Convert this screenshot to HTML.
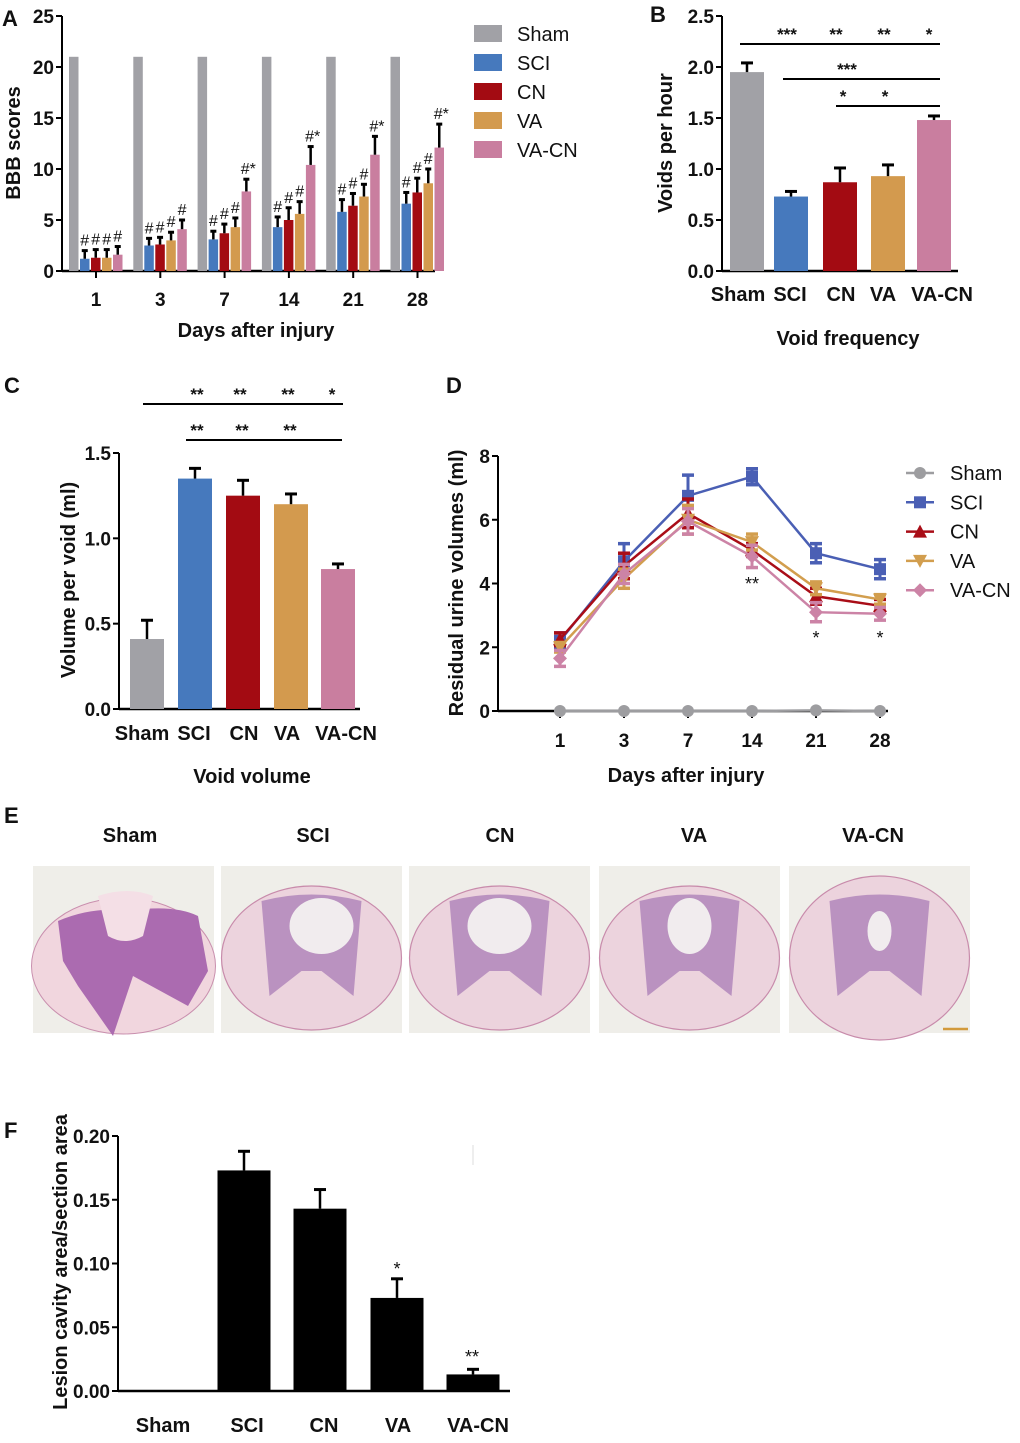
<!DOCTYPE html>
<html><head><meta charset="utf-8"><style>
body{margin:0;background:#fff}
svg text{font-family:"Liberation Sans",Arial,sans-serif;font-weight:bold;fill:#111}
svg text.n{font-weight:normal}
</style></head><body>
<svg id="fig" width="1020" height="1438" viewBox="0 0 1020 1438" xmlns="http://www.w3.org/2000/svg"></svg>
<script>
// ---- Panel A data ----
const aDays = ["1","3","7","14","21","28"];
const aGroups = ["Sham","SCI","CN","VA","VA-CN"];
const aSham = [21,21,21,21,21,21];
const aSCI = [1.2,2.5,3.1,4.3,5.8,6.6];
const aCN = [1.3,2.6,3.7,5.0,6.4,7.7];
const aVA = [1.3,3.0,4.3,5.6,7.3,8.6];
const aVACN = [1.6,4.1,7.8,10.4,11.4,12.1];
const aSCIerr = [0.8,0.7,0.8,1.0,1.2,1.1];
const aCNerr = [0.8,0.7,0.9,1.2,1.2,1.4];
const aVAerr = [0.8,0.8,0.9,1.2,1.2,1.4];
const aVACNerr = [0.8,0.9,1.2,1.8,1.8,2.3];
const aMarks = [["#","#","#","#"],["#","#","#","#"],["#","#","#","#*"],["#","#","#","#*"],["#","#","#","#*"],["#","#","#","#*"]];
const aTicks = [0,5,10,15,20,25];
// ---- Panel B data ----
const bCats = ["Sham","SCI","CN","VA","VA-CN"];
const bVals = [1.95,0.73,0.87,0.93,1.48];
const bErr = [0.09,0.05,0.14,0.11,0.04];
const bTicks = ["0.0","0.5","1.0","1.5","2.0","2.5"];
// ---- Panel C data ----
const cCats = ["Sham","SCI","CN","VA","VA-CN"];
const cVals = [0.41,1.35,1.25,1.20,0.82];
const cErr = [0.11,0.06,0.09,0.06,0.03];
const cTicks = ["0.0","0.5","1.0","1.5"];
// ---- Panel D data ----
const dDays = ["1","3","7","14","21","28"];
const dSham = [0,0,0,0,0.02,0];
const dSCI = [2.2,4.7,6.75,7.35,4.95,4.45];
const dCN = [2.25,4.55,6.2,5.05,3.6,3.3];
const dVA = [2.0,4.15,6.0,5.3,3.85,3.5];
const dVACN = [1.65,4.3,5.95,4.85,3.1,3.05];
const dSCIerr = [0.25,0.55,0.65,0.25,0.3,0.3];
const dCNerr = [0.2,0.4,0.45,0.2,0.25,0.2];
const dVAerr = [0.15,0.3,0.45,0.25,0.2,0.15];
const dVACNerr = [0.25,0.3,0.4,0.35,0.3,0.2];
const dTicks = [0,2,4,6,8];
// ---- Panel F data ----
const fCats = ["Sham","SCI","CN","VA","VA-CN"];
const fVals = [0,0.173,0.143,0.073,0.013];
const fErr = [0,0.015,0.015,0.015,0.004];
const fTicks = ["0.00","0.05","0.10","0.15","0.20"];

const COLORS = {Sham:"#a1a1a6",SCI:"#4679bd",CN:"#a30b12",VA:"#d39a4e","VA-CN":"#c97e9f"};
const DCOL = {Sham:"#9d9da0",SCI:"#4a5fb4",CN:"#a90d17",VA:"#d29e4e","VA-CN":"#cc83a6"};
const svg = document.getElementById('fig');
const NS = "http://www.w3.org/2000/svg";
function mk(tag, attrs, parent){const e=document.createElementNS(NS,tag);for(const k in attrs)e.setAttribute(k,attrs[k]);(parent||svg).appendChild(e);return e;}
function txt(x,y,s,size,anchor,parent,extra){const t=mk('text',Object.assign({x:x,y:y,'font-size':size,'text-anchor':anchor||'middle'},extra||{}),parent);t.textContent=s;return t;}
function ntxt(x,y,s,size,anchor,parent,extra){return txt(x,y,s,size,anchor,parent,Object.assign({'class':'n'},extra||{}));}
function line(x1,y1,x2,y2,w,c,p){return mk('line',{x1,y1,x2,y2,stroke:c||'#000','stroke-width':w||2},p);}
function errbar(x,ytop,ybar,w,p){line(x,ybar,x,ytop,2.5,'#000',p);line(x-w,ytop,x+w,ytop,3,'#000',p);}
const TF=19;

// Panel letters
[["A",2,26],["B",650,22],["C",4,393],["D",446,393],["E",4,823],["F",4,1138]].forEach(l=>{
  const t=txt(l[1],l[2],l[0],22,'start');
  
  
});

// ===== Panel A =====
(function(){
  const g=mk('g',{});
  
  
  const x0=62,yB=271,yT=16,max=25;
  const y=v=>yB-(v/max)*(yB-yT);
  const gx=i=>96+i*64.3;
  line(x0,yT,x0,yB+1,2,'#000',g);
  line(x0,yB,435,yB,2.5,'#000',g);
  aTicks.forEach(t=>{line(x0-6,y(t),x0,y(t),2,'#000',g);txt(x0-8,y(t)+7,String(t),TF,'end',g);});
  const series=[aSham,aSCI,aCN,aVA,aVACN], errs=[null,aSCIerr,aCNerr,aVAerr,aVACNerr];
  aDays.forEach((d,i)=>{
    const cx=gx(i);
    line(cx,yB,cx,yB+7,2,'#000',g);
    txt(cx,y(0)+35,d,TF,'middle',g);
    series.forEach((s,j)=>{
      const bx=cx-27+j*11;
      const r=mk('rect',{x:bx,y:y(s[i]),width:9.5,height:yB-y(s[i]),fill:COLORS[aGroups[j]]},g);
      
      
      if(errs[j]){errbar(bx+4.75,y(s[i]+errs[j][i]),y(s[i]),3,g);
        ntxt(bx+4.75+(aMarks[i][j-1].length>1?2:0),y(s[i]+errs[j][i])-5,aMarks[i][j-1],16,'middle',g);}
    });
  });
  const yl=txt(20,143,"BBB scores",20,'middle',g,{transform:'rotate(-90 20 143)'});
  
  
  txt(256,337,"Days after injury",20,'middle',g);
  aGroups.forEach((n,j)=>{
    const lg=mk('g',{},g);
    
    
    mk('rect',{x:474,y:25+j*29,width:28,height:17,fill:COLORS[n]},lg);
    ntxt(517,41+j*29,n,20,'start',lg);
  });
})();

// ===== generic bar panel =====
function barPanel(name,cats,vals,errs,ticks,max,x0,yB,yT,xs,bw,colorFn,xEnd){
  const g=mk('g',{});
  
  
  const y=v=>yB-(v/max)*(yB-yT);
  line(x0,yT,x0,yB+1,2,'#000',g);
  line(x0,yB,xEnd,yB,2.5,'#000',g);
  ticks.forEach(t=>{const v=parseFloat(t);line(x0-6,y(v),x0,y(v),2,'#000',g);txt(x0-8,y(v)+7,t,TF,'end',g);});
  cats.forEach((c,i)=>{
    const r=mk('rect',{x:xs[i]-bw/2,y:y(vals[i]),width:bw,height:yB-y(vals[i]),fill:colorFn(c)},g);
    
    
    if(errs[i]>0)errbar(xs[i],y(vals[i]+errs[i]),y(vals[i]),6,g);
  });
  return {g,y};
}

// ===== Panel B =====
(function(){
  const xs=[747,791,840,888,934];
  const p=barPanel('panel-b-void-frequency',bCats,bVals,bErr,bTicks,2.5,722,271,16,xs,34,c=>COLORS[c],958);
  const g=p.g;
  const lx=[738,790,841,883,942];
  bCats.forEach((c,i)=>txt(lx[i],301,c,20,'middle',g));
  txt(848,345,"Void frequency",20,'middle',g);
  txt(672,143,"Voids per hour",20,'middle',g,{transform:'rotate(-90 672 143)'});
  line(740,44,940,44,2,'#000',g);
  [["***",787],["**",836],["**",884],["*",929]].forEach(s=>txt(s[1],40,s[0],17,'middle',g));
  line(783,79,940,79,2,'#000',g);txt(847,75,"***",17,'middle',g);
  line(836,106,940,106,2,'#000',g);txt(843,102,"*",17,'middle',g);txt(885,102,"*",17,'middle',g);
})();

// ===== Panel C =====
(function(){
  const xs=[147,195,243,291,338];
  const p=barPanel('panel-c-void-volume',cCats,cVals,cErr,cTicks,1.5,119,709,453,xs,34,c=>COLORS[c],360);
  const g=p.g;
  const lx=[142,194,244,287,346];
  cCats.forEach((c,i)=>txt(lx[i],740,c,20,'middle',g));
  txt(252,783,"Void volume",20,'middle',g);
  txt(75,580,"Volume per void (ml)",20,'middle',g,{transform:'rotate(-90 75 580)'});
  line(143,404,343,404,2,'#000',g);
  [["**",197],["**",240],["**",288],["*",332]].forEach(s=>txt(s[1],400,s[0],17,'middle',g));
  line(186,440,342,440,2,'#000',g);
  [["**",197],["**",242],["**",290]].forEach(s=>txt(s[1],436,s[0],17,'middle',g));
})();

// ===== Panel D =====
(function(){
  const g=mk('g',{});
  
  
  const x0=498,yB=711,yT=456,max=8;
  const y=v=>yB-(v/max)*(yB-yT);
  const xi=i=>560+i*64;
  line(x0,yT,x0,yB+1,2,'#000',g);
  line(x0,yB,888,yB,2.5,'#000',g);
  dTicks.forEach(t=>{line(x0-6,y(t),x0,y(t),2,'#000',g);txt(x0-8,y(t)+7,String(t),TF,'end',g);});
  dDays.forEach((d,i)=>{line(xi(i),yB,xi(i),yB+7,2,'#000',g);txt(xi(i),747,d,TF,'middle',g);});
  txt(686,782,"Days after injury",20,'middle',g);
  txt(463,583,"Residual urine volumes (ml)",20,'middle',g,{transform:'rotate(-90 463 583)'});
  const ser=[["SCI",dSCI,dSCIerr,'square'],["CN",dCN,dCNerr,'tri'],["VA",dVA,dVAerr,'tridown'],["VA-CN",dVACN,dVACNerr,'diamond'],["Sham",dSham,null,'circle']];
  function marker(type,x,yy,c,p){
    if(type==='square')mk('rect',{x:x-6,y:yy-6,width:12,height:12,fill:c},p);
    else if(type==='tri')mk('polygon',{points:`${x},${yy-7} ${x-7},${yy+6} ${x+7},${yy+6}`,fill:c},p);
    else if(type==='tridown')mk('polygon',{points:`${x},${yy+7} ${x-7},${yy-6} ${x+7},${yy-6}`,fill:c},p);
    else if(type==='diamond')mk('polygon',{points:`${x},${yy-7} ${x+7},${yy} ${x},${yy+7} ${x-7},${yy}`,fill:c},p);
    else mk('circle',{cx:x,cy:yy,r:6,fill:c},p);
  }
  ser.forEach(s=>{
    const sg=mk('g',{},g);
    
    
    const c=DCOL[s[0]];
    mk('polyline',{points:s[1].map((v,i)=>xi(i)+','+y(v)).join(' '),fill:'none',stroke:c,'stroke-width':2.5},sg);
    s[1].forEach((v,i)=>{
      if(s[2]){const e=s[2][i];line(xi(i),y(v-e),xi(i),y(v+e),3,c,sg);line(xi(i)-6,y(v+e),xi(i)+6,y(v+e),3.5,c,sg);line(xi(i)-6,y(v-e),xi(i)+6,y(v-e),3.5,c,sg);}
      marker(s[3],xi(i),y(v),c,sg);
    });
  });
  ntxt(752,590,"**",18,'middle',g);
  ntxt(816,644,"*",18,'middle',g);
  ntxt(880,644,"*",18,'middle',g);
  const leg=[["Sham",'circle'],["SCI",'square'],["CN",'tri'],["VA",'tridown'],["VA-CN",'diamond']];
  leg.forEach((l,j)=>{
    const lg=mk('g',{},g);
    
    
    const yy=473+j*29.3;
    line(906,yy,934,yy,2.5,DCOL[l[0]],lg);
    marker(l[1],920,yy,DCOL[l[0]],lg);
    ntxt(950,yy+7,l[0],20,'start',lg);
  });
})();

// ===== Panel E =====
(function(){
  const g=mk('g',{});
  
  
  const names=["Sham","SCI","CN","VA","VA-CN"];
  const lx=[130,313,500,694,873];
  const ix=[33,221,409,599,789];
  names.forEach((n,i)=>{
    txt(lx[i],842,n,20,'middle',g);
    const ig=mk('g',{},g);
    
    
    const x=ix[i],w=181,y0=866,h=167,cx=x+w/2;
    mk('rect',{x:x,y:y0,width:w,height:h,fill:'#efeee9'},ig);
    if(i===0){
      mk('ellipse',{cx:cx,cy:y0+100,rx:92,ry:68,fill:'#f1d6de',stroke:'#c98fae','stroke-width':1},ig);
      mk('path',{d:`M${x+25} ${y0+55} Q${x+60} ${y0+40} ${x+95} ${y0+45} Q${x+140} ${y0+38} ${x+165} ${y0+50} L${x+175} ${y0+105} L${x+155} ${y0+140} L${x+100} ${y0+110} L${x+80} ${y0+170} L${x+45} ${y0+120} L${x+30} ${y0+95} Z`,fill:'#ab6bb0'},ig);
      mk('path',{d:`M${x+65} ${y0+30} Q${x+95} ${y0+20} ${x+120} ${y0+30} L${x+110} ${y0+70} Q${x+92} ${y0+80} ${x+75} ${y0+70} Z`,fill:'#f4dfe6'},ig);
    } else {
      mk('ellipse',{cx:cx,cy:y0+92,rx:90,ry:(i===4?82:72),fill:'#ecd3dd',stroke:'#c88bab','stroke-width':1.2},ig);
      mk('path',{d:`M${cx-50} ${y0+35} Q${cx} ${y0+22} ${cx+50} ${y0+35} L${cx+42} ${y0+130} L${cx+10} ${y0+105} L${cx-10} ${y0+105} L${cx-42} ${y0+130} Z`,fill:'#b286bb',opacity:0.85},ig);
      mk('ellipse',{cx:cx+(i===1?10:0),cy:y0+(i===4?65:60),rx:(i===4?12:(i===3?22:32)),ry:(i===4?20:28),fill:'#f1ecee'},ig);
    }
  });
  line(943,1029,968,1029,2.5,'#d29a3c',g);
})();

// ===== Panel F =====
(function(){
  const xs=[163,244,320,397,473];
  const p=barPanel('panel-f-lesion-area',fCats,fVals,fErr,fTicks,0.2,118,1391,1136,xs,53,c=>'#000',510);
  const g=p.g;
  const lx=[163,247,324,398,478];
  fCats.forEach((c,i)=>txt(lx[i],1432,c,20,'middle',g));
  txt(67,1262,"Lesion cavity area/section area",20,'middle',g,{transform:'rotate(-90 67 1262)'});
  ntxt(397,1275,"*",18,'middle',g);
  ntxt(472,1363,"**",18,'middle',g);
  line(473,1145,473,1165,1,'#ddd',g);
})();
</script>
</body></html>
